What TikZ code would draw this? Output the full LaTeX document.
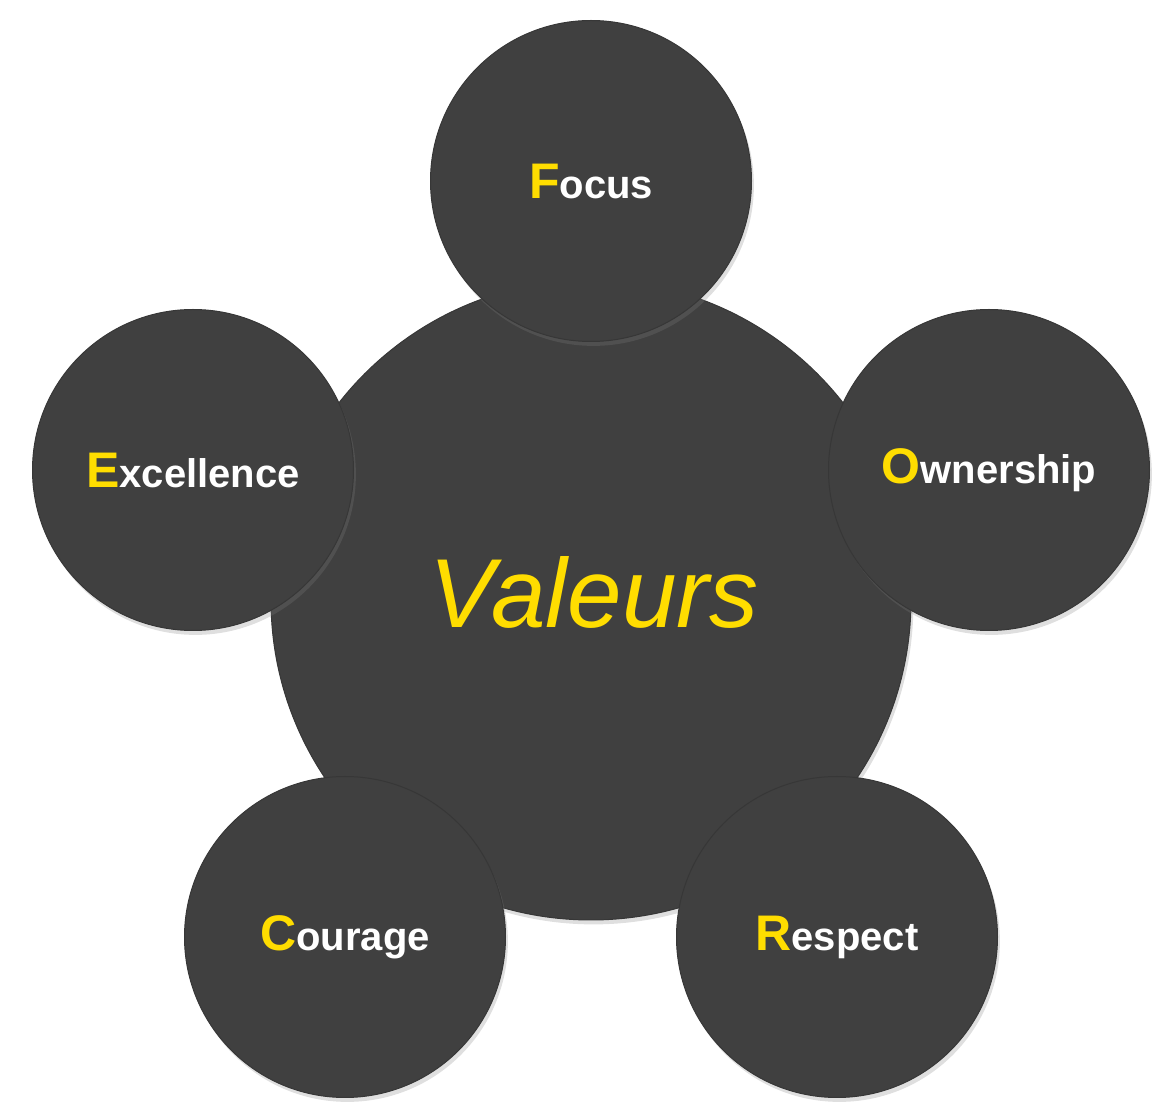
\documentclass[tikz,border=0pt]{standalone}
\usepackage{fontspec}
\setmainfont{Liberation Sans}
\usepackage{xcolor}
\usetikzlibrary{shadows}
\definecolor{discgray}{RGB}{64,64,64}
\definecolor{discedge}{RGB}{55,55,55}
\definecolor{valyellow}{RGB}{255,221,0}
\newcommand{\firstletter}[1]{{\fontsize{25}{25}\selectfont\color{valyellow}#1}}

\begin{document}
\begin{tikzpicture}[x=0.5pt,y=-0.5pt,
    disc/.style={circle,fill=discgray,draw=discedge,line width=0.5pt,inner sep=0pt,
        drop shadow={shadow xshift=1.2pt,shadow yshift=-2.2pt,opacity=0.25}},
    bigdisc/.style={disc,minimum size=320pt},
    smalldisc/.style={disc,minimum size=160.5pt,text=white,
        font=\fontsize{20}{20}\selectfont\bfseries}]
				\useasboundingbox (0,0) rectangle (1175,1117);
				% centre
				\node[bigdisc] (valeurs) at (591,600) {};
				\node[text=valyellow,font=\fontsize{49}{49}\selectfont\itshape] (valtext) at (594,592) {Valeurs};
				% the five values
				\node[smalldisc] (focus) at (591,181) {\firstletter{F}ocus};
				\node[smalldisc] (excellence) at (193,470) {\firstletter{E}xcellence};
				\node[smalldisc] (ownership) at (989,470) {\firstletter{O}wnership};
				\node[smalldisc] (courage) at (345,937) {\firstletter{C}ourage};
				\node[smalldisc] (respect) at (837,937) {\firstletter{R}espect};
\end{tikzpicture}
\end{document}
